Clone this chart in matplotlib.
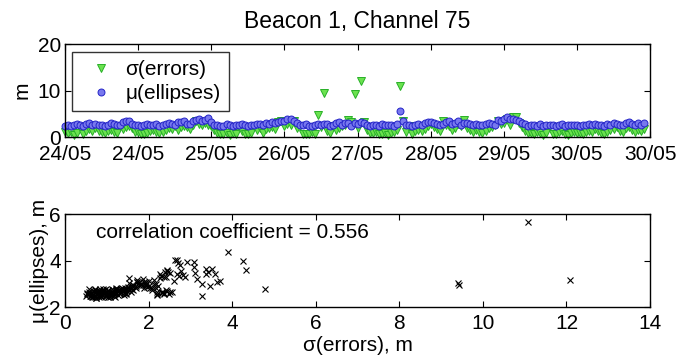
import numpy as np
import matplotlib
matplotlib.use("Agg")
import matplotlib.pyplot as plt

plt.rcParams["font.family"] = ["Liberation Sans", "DejaVu Sans"]

# hourly samples, one row per day (24/05 ... 30/05)
sigma_errors = [
    1.18, 0.83, 1.02, 0.57, 0.94, 2.21, 0.68, 1.33, 1.76, 1.41, 1.97, 1.24, 1.05, 0.87, 1.29, 1.63, 1.12, 0.79, 2.38, 1.72, 2.27, 2.46, 1.88, 1.16,
    1.03, 0.72, 0.61, 0.92, 1.27, 1.58, 1.21, 0.86, 1.13, 1.44, 1.91, 1.68, 2.32, 1.53, 2.12, 2.43, 2.18, 1.86, 2.52, 3.38, 2.92, 2.68, 3.08, 2.63,
    2.41, 1.47, 0.88, 0.63, 0.74, 0.98, 0.52, 0.81, 0.66, 2.19, 1.22, 0.77, 0.59, 0.93, 2.36, 1.61, 2.08, 0.84, 1.73, 2.03, 2.29, 1.82, 3.17, 3.58,
    2.44, 2.76, 2.68, 3.41, 1.93, 2.51, 0.78, 0.71, 0.62, 1.04, 0.69, 4.78, 2.21, 9.42, 1.38, 0.91, 2.33, 1.52, 1.87, 2.42, 2.61, 3.63, 3.28, 9.40,
    2.02, 12.08, 3.27, 1.49, 0.97, 0.82, 1.09, 0.73, 0.58, 0.88, 0.53, 0.79, 1.19, 1.57, 11.08, 3.38, 1.01, 2.48, 0.71, 1.23, 1.51, 1.31, 1.78, 2.37,
    2.88, 2.13, 1.69, 1.42, 3.47, 2.72, 2.39, 1.62, 2.01, 2.83, 2.44, 3.71, 1.92, 1.48, 1.18, 1.59, 1.03, 0.81, 1.36, 1.94, 2.23, 2.57, 3.52, 2.78,
    3.09, 3.91, 2.71, 4.26, 4.33, 3.12, 2.18, 1.28, 0.99, 0.91, 0.62, 1.07, 0.83, 0.51, 0.89, 2.31, 0.72, 0.64, 1.02, 1.34, 0.78, 0.57, 0.94, 1.11,
    0.84, 0.97, 0.73, 1.17, 1.43, 1.08, 1.71, 1.32, 0.92, 0.68, 1.14, 1.47, 1.81, 2.09, 1.39, 1.01, 1.89, 2.27, 1.54, 1.21, 1.63, 1.37, 1.73,
]
mu_ellipses = [
    2.47, 2.66, 2.42, 2.58, 2.74, 2.63, 2.51, 2.79, 3.06, 2.53, 2.87, 2.69, 2.56, 2.44, 2.71, 2.96, 2.77, 2.61, 2.57, 3.18, 3.41, 3.52, 2.83, 2.68,
    2.72, 2.43, 2.62, 2.76, 2.52, 2.67, 2.81, 2.49, 2.64, 2.73, 3.02, 2.88, 2.66, 3.27, 3.17, 3.58, 2.84, 2.93, 3.47, 3.62, 3.93, 3.44, 3.71, 4.03,
    3.31, 2.58, 2.68, 2.46, 2.41, 2.76, 2.55, 2.43, 2.69, 2.52, 2.78, 2.61, 2.48, 2.71, 2.62, 2.91, 2.73, 2.54, 3.08, 2.82, 3.34, 2.98, 3.23, 3.43,
    3.57, 3.82, 4.01, 3.52, 2.97, 2.67, 2.59, 2.77, 2.47, 2.42, 2.68, 2.77, 2.57, 2.94, 2.79, 2.51, 2.66, 3.03, 3.21, 2.72, 3.12, 3.08, 2.47, 3.02,
    2.91, 3.18, 2.98, 2.71, 2.48, 2.69, 2.58, 2.41, 2.76, 2.52, 2.61, 2.67, 2.43, 2.79, 5.66, 3.42, 2.63, 2.58, 2.49, 2.72, 2.88, 2.57, 2.97, 3.29,
    3.28, 3.01, 2.82, 2.59, 2.92, 3.33, 3.52, 2.74, 3.13, 3.38, 2.71, 3.11, 2.96, 2.78, 2.62, 2.87, 2.71, 2.53, 2.83, 3.07, 2.91, 2.64, 3.63, 3.57,
    3.92, 4.37, 3.88, 3.98, 3.59, 3.48, 2.99, 2.73, 2.51, 2.68, 2.57, 2.44, 2.78, 2.46, 2.64, 2.61, 2.72, 2.42, 2.56, 2.77, 2.49, 2.63, 2.69, 2.52,
    2.58, 2.47, 2.71, 2.56, 2.82, 2.53, 2.89, 2.67, 2.61, 2.43, 2.74, 2.59, 2.97, 2.81, 2.69, 2.54, 3.09, 3.27, 2.78, 2.62, 2.96, 2.68, 3.06,
]
hours = np.arange(len(mu_ellipses))

date_ticks = [0, 24, 48, 72, 96, 120, 144, 168, 192]
date_labels = ["24/05", "24/05", "25/05", "26/05", "27/05", "28/05", "29/05", "30/05", "30/05"]

FS = 15

fig = plt.figure(figsize=(6.94, 3.6), dpi=100)

# top: time series
ax1 = fig.add_axes([0.0937, 0.619, 0.843, 0.258])
ax1.plot(hours, sigma_errors, linestyle="none", marker="v", markersize=6,
         markerfacecolor="#6be24f", markeredgecolor="#28b028", markeredgewidth=0.7,
         label="σ(errors)", clip_on=False)
ax1.plot(hours, mu_ellipses, linestyle="none", marker="o", markersize=5,
         markerfacecolor="#7878ee", markeredgecolor="#2424c8", markeredgewidth=0.7,
         label="μ(ellipses)", clip_on=False)
ax1.set_xlim(0, 192)
ax1.set_ylim(0, 20)
ax1.set_yticks([0, 10, 20])
ax1.set_xticks(date_ticks)
ax1.set_xticklabels(date_labels)
ax1.set_ylabel("m", fontsize=FS, labelpad=4)
ax1.set_title("Beacon 1, Channel 75", fontsize=16.5, pad=12)
leg = ax1.legend(loc="upper left", fontsize=FS, frameon=True, fancybox=False,
                 edgecolor="black", borderpad=0.4, handletextpad=0.15,
                 labelspacing=0.25, borderaxespad=0.35, handlelength=2.0)
leg.get_frame().set_linewidth(1.0)

# bottom: scatter
ax2 = fig.add_axes([0.0937, 0.147, 0.843, 0.258])
ax2.plot(sigma_errors, mu_ellipses, linestyle="none", marker="x", markersize=4,
         markeredgewidth=0.8, color="black")
ax2.set_xlim(0, 14)
ax2.set_ylim(2, 6)
ax2.set_xticks(range(0, 15, 2))
ax2.set_yticks([2, 4, 6])
ax2.set_xlabel("σ(errors), m", fontsize=FS, labelpad=2)
ax2.set_ylabel("μ(ellipses), m", fontsize=FS, labelpad=0)
ax2.text(0.75, 5.2, "correlation coefficient = 0.556", fontsize=FS,
         ha="left", va="center")

for ax in (ax1, ax2):
    ax.tick_params(direction="in", top=True, right=True, length=4, width=0.8,
                   labelsize=FS)
    ax.tick_params(axis="x", pad=5)
    ax.tick_params(axis="y", pad=3)
    for s in ax.spines.values():
        s.set_linewidth(1.0)
ax1.tick_params(axis="x", pad=6)

fig.savefig("out.png", dpi=100)
